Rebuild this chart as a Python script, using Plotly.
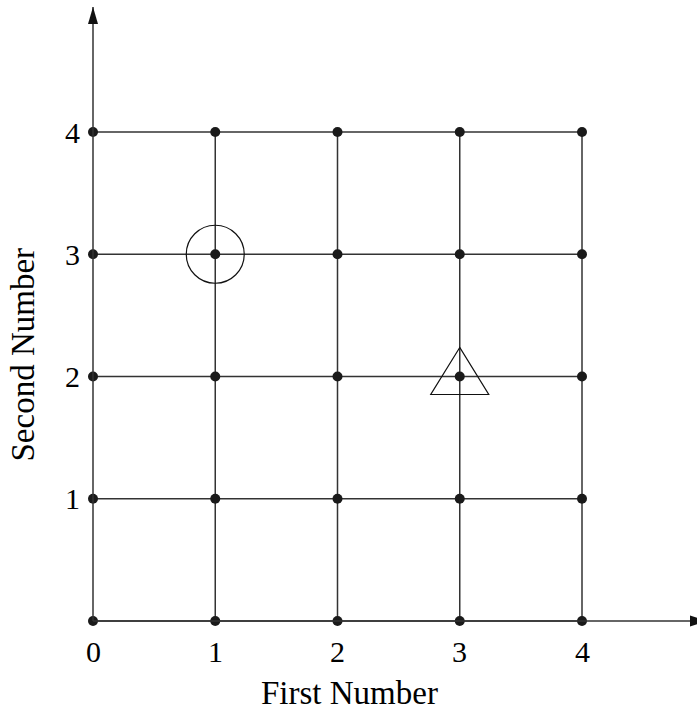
import plotly.graph_objects as go

# ---- data ----
first_numbers = [0, 1, 2, 3, 4]
second_numbers = [0, 1, 2, 3, 4]
x_tick_labels = ["0", "1", "2", "3", "4"]
y_tick_values = [1, 2, 3, 4]
y_tick_labels = ["1", "2", "3", "4"]
circled_point = (1, 3)
triangle_point = (3, 2)
x_title = "First Number"
y_title = "Second Number"

# ---- geometry / style ----
UNIT = 122.25          # px per unit
PAD = 12               # px of plot area before 0
W, H = 697, 709
L_M, R_M, T_M, B_M = 81, 0, 7, 76
x0 = -PAD / UNIT
x1 = (W - L_M - R_M) / UNIT + x0
y0 = -PAD / UNIT
y1 = (H - T_M - B_M) / UNIT + y0
FONT = "Liberation Serif, Times New Roman, serif"
LINE_COL = "#333333"
FS_TICK = 30
FS_TITLE = 33

# grid lines built from data
gx, gy = [], []
for y in second_numbers:
    gx += [min(first_numbers), max(first_numbers), None]
    gy += [y, y, None]
for x in first_numbers[1:]:
    gx += [x, x, None]
    gy += [min(second_numbers), max(second_numbers), None]

px, py = [], []
for x in first_numbers:
    for y in second_numbers:
        px.append(x)
        py.append(y)

fig = go.Figure()
fig.add_trace(go.Scatter(x=gx, y=gy, mode="lines",
                         line=dict(color=LINE_COL, width=1.5),
                         hoverinfo="skip", showlegend=False))
fig.add_trace(go.Scatter(x=px, y=py, mode="markers",
                         marker=dict(color="#1a1a1a", size=10),
                         cliponaxis=False, showlegend=False))
fig.add_trace(go.Scatter(x=[circled_point[0]], y=[circled_point[1]], mode="markers",
                         marker=dict(symbol="circle-open", size=58,
                                     color="#111111", line=dict(width=1.2, color="#111111")),
                         cliponaxis=False, showlegend=False))

shapes = []
# axes with arrows
shapes.append(dict(type="line", xref="x", yref="y", x0=0, x1=0, y0=0, y1=y1,
                   line=dict(color=LINE_COL, width=1.5)))
shapes.append(dict(type="line", xref="x", yref="y", x0=0, x1=x1, y0=0, y1=0,
                   line=dict(color=LINE_COL, width=1.5)))
shapes.append(dict(type="path", xref="x", yref="y", xsizemode="pixel", ysizemode="pixel",
                   xanchor=0, yanchor=y1, path="M0,0 L-5,-17 L5,-17 Z",
                   fillcolor="#111111", line=dict(width=0)))
x_tip = x1 + 10 / UNIT
shapes.append(dict(type="path", xref="x", yref="y", xsizemode="pixel", ysizemode="pixel",
                   xanchor=x_tip, yanchor=0, path="M0,0 L-17,5.5 L-17,-5.5 Z",
                   fillcolor="#111111", line=dict(width=0)))
# triangle around highlighted point
shapes.append(dict(type="path", xref="x", yref="y", xsizemode="pixel", ysizemode="pixel",
                   xanchor=triangle_point[0], yanchor=triangle_point[1],
                   path="M0,29 L-29,-18 L29,-18 Z",
                   fillcolor="rgba(0,0,0,0)", line=dict(color="#111111", width=1.2)))

annotations = []
for v, t in zip(first_numbers, x_tick_labels):
    annotations.append(dict(x=v, y=0, xref="x", yref="y", text=t, showarrow=False,
                            xanchor="center", yanchor="middle", yshift=-30,
                            font=dict(family=FONT, size=FS_TICK, color="black")))
for v, t in zip(y_tick_values, y_tick_labels):
    annotations.append(dict(x=0, y=v, xref="x", yref="y", text=t, showarrow=False,
                            xanchor="right", yanchor="middle", xshift=-11,
                            font=dict(family=FONT, size=FS_TICK, color="black")))
annotations.append(dict(x=2, y=0, xref="x", yref="y", text=x_title, showarrow=False,
                        xanchor="center", yanchor="middle", xshift=12, yshift=-72,
                        borderpad=0,
                        font=dict(family=FONT, size=FS_TITLE, color="black")))
annotations.append(dict(x=0, y=2.18, xref="x", yref="y", text=y_title, showarrow=False,
                        textangle=-90, xanchor="center", yanchor="middle", xshift=-70,
                        borderpad=0,
                        font=dict(family=FONT, size=FS_TITLE, color="black")))

fig.update_layout(
    width=W, height=H,
    margin=dict(l=L_M, r=R_M, t=T_M, b=B_M),
    paper_bgcolor="white", plot_bgcolor="white",
    xaxis=dict(range=[x0, x1], visible=False, fixedrange=True),
    yaxis=dict(range=[y0, y1], visible=False, fixedrange=True),
    shapes=shapes, annotations=annotations,
    showlegend=False,
)
fig.write_html(
    "out.html",
    config={"displayModeBar": False},
    post_script="document.body.style.margin='0';"
                "document.documentElement.style.overflow='hidden';"
                "document.body.style.overflow='hidden';",
)
